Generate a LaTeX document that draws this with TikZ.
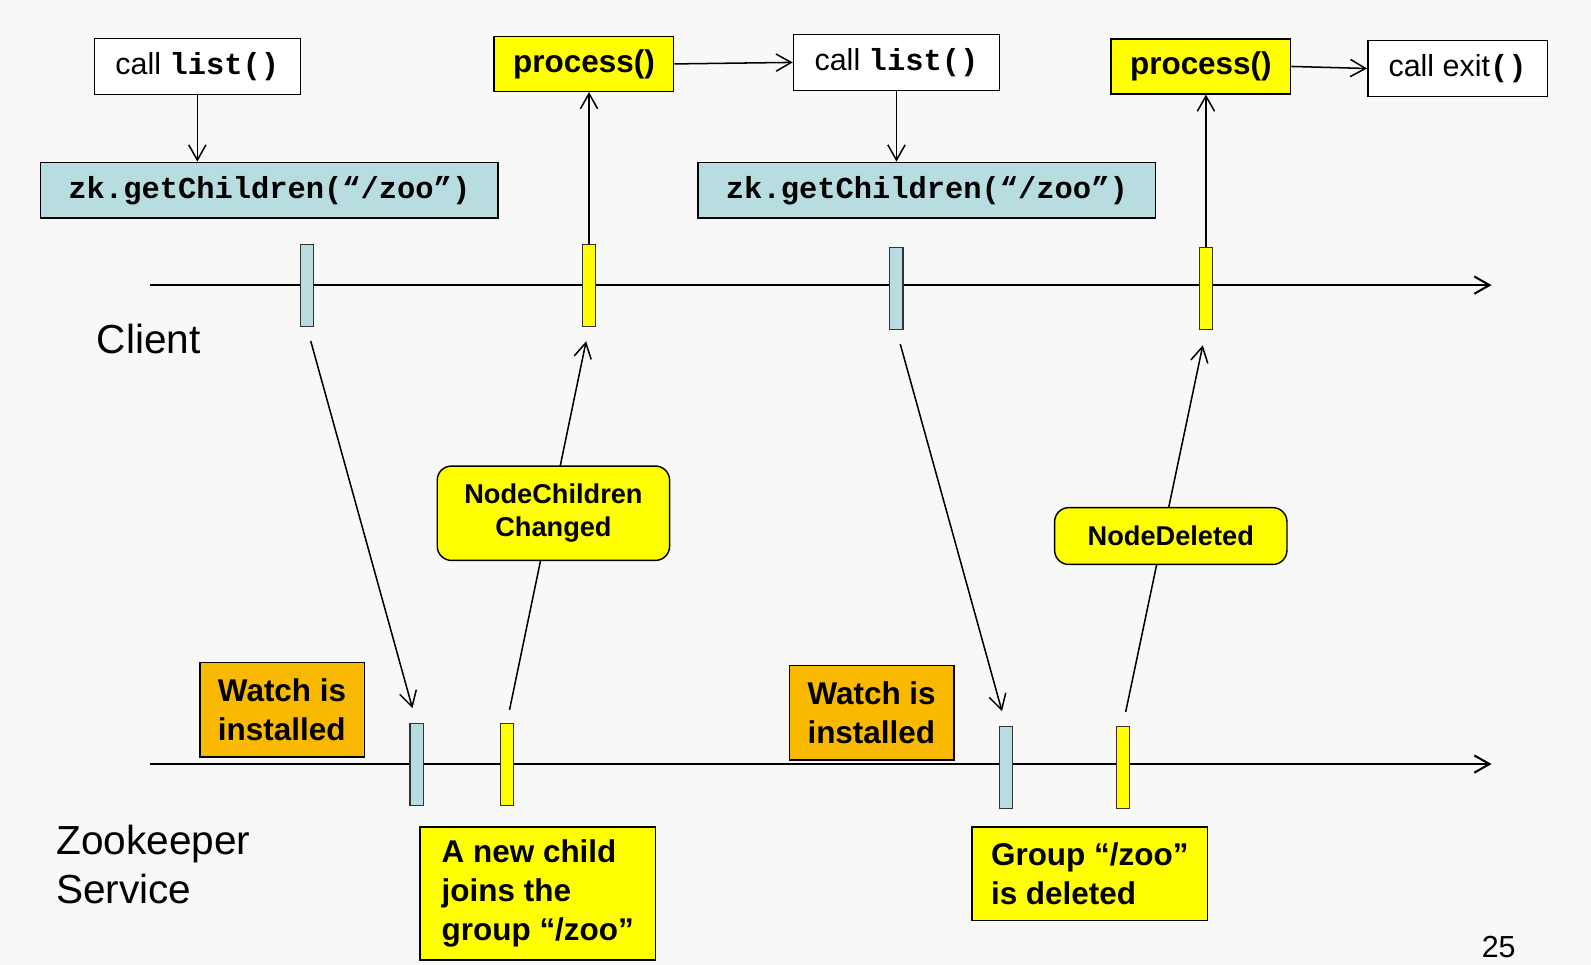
\documentclass[tikz,border=0pt]{standalone}
\usepackage{fontspec}
\setmainfont{Liberation Sans}
\setmonofont{Liberation Mono}
\usepackage{tikz}
\usetikzlibrary{arrows.meta}
\definecolor{zkblue}{HTML}{B8DDE0}
\definecolor{zkyellow}{HTML}{FFFF00}
\definecolor{zkorange}{HTML}{F9B900}
\definecolor{zkback}{HTML}{F8F8F8}

\tikzset{
  plainbox/.style={draw=black,line width=0.7pt,inner sep=0pt,
    font=\fontsize{15}{18}\selectfont},
  callbox/.style={plainbox,fill=white,minimum width=101.5pt,minimum height=27.5pt},
  getbox/.style={plainbox,fill=zkblue,minimum width=225.5pt,minimum height=27.5pt},
  procbox/.style={plainbox,fill=zkyellow,minimum width=88.5pt,minimum height=27pt,
    font=\fontsize{15.5}{18}\selectfont\bfseries},
  watchbox/.style={plainbox,fill=zkorange,minimum width=81pt,minimum height=46.5pt,
    align=left,font=\fontsize{15.5}{19}\selectfont\bfseries},
  notebox/.style={plainbox,fill=zkyellow,minimum width=116pt,
    align=left,font=\fontsize{15.5}{19}\selectfont\bfseries},
  eventbox/.style={plainbox,fill=zkyellow,rounded corners=7pt,minimum width=114.5pt,
    align=center,font=\fontsize{13.4}{16.5}\selectfont\bfseries},
  tickmark/.style={draw=black!80,line width=0.6pt,inner sep=0pt,
    minimum width=6.5pt,minimum height=40.5pt},
  timeline/.style={line width=1pt,-{Straight Barb[length=7.5pt,width=8.5pt]}},
  flow/.style={line width=0.75pt,-{Straight Barb[length=7.5pt,width=8.5pt]}}
}

\begin{document}
\begin{tikzpicture}[x=0.5pt,y=-0.5pt]
  % background
  \fill[zkback] (0,0) rectangle (1568,951);

  % the two timelines
  \coordinate (cli-a) at (148,281); \coordinate (cli-b) at (1470,281);
  \coordinate (srv-a) at (148,753); \coordinate (srv-b) at (1470,753);
  \draw[timeline] (cli-a) -- (cli-b);
  \draw[timeline] (srv-a) -- (srv-b);

  % marks: name, x, y, colour
  \foreach \nm/\x/\y/\c in {%
    t1/302.5/281.5/zkblue, t2/580.5/281.5/zkyellow,
    t3/883.5/284.5/zkblue, t4/1188.5/284.5/zkyellow,
    z1/410.5/753.5/zkblue, z2/499.5/753.5/zkyellow,
    z3/991.5/756.5/zkblue, z4/1106.5/756.5/zkyellow}{
      \node[tickmark,fill=\c] (\nm) at (\x,\y) {};
  }

  % client calls
  \node[callbox] (list1) at (194.5,65.5) {call \texttt{\bfseries list()}};
  \node[getbox] (get1) at (265.5,187.5) {\texttt{\bfseries zk.getChildren(“/zoo”)}};
  \node[procbox] (proc1) at (575.5,63) {process()};
  \node[callbox] (list2) at (883.5,61.5) {call \texttt{\bfseries list()}};
  \node[getbox] (get2) at (913.5,187.5) {\texttt{\bfseries zk.getChildren(“/zoo”)}};
  \node[procbox] (proc2) at (1183.5,65.5) {process()};
  \node[callbox,minimum width=88.5pt] (exit) at (1436.5,67.5) {call exit\texttt{\bfseries ()}};

  \draw[flow] (list1.south) -- (list1.south |- get1.north);
  \draw[flow] (proc1.east) -- (list2.west);
  \draw[flow] (list2.south) -- (list2.south |- get2.north);
  \draw[flow] (proc2.east) -- (exit.west);
  \draw[flow] (t2.north) -- (t2.north |- proc1.south);
  \draw[flow] (t4.north) -- (t4.north |- proc2.south);

  % messages between client and service
  \draw[flow,shorten <=7pt,shorten >=7.5pt] (t1.south) -- (z1.north);
  \draw[flow,shorten <=6.5pt,shorten >=7pt] (z2.north) --
    node[eventbox,pos=0.53,xshift=1.5pt,minimum height=46.5pt] {NodeChildren\\Changed} (t2.south);
  \draw[flow,shorten <=7pt,shorten >=7.5pt] (t3.south) -- (z3.north);
  \draw[flow,shorten <=7pt,shorten >=7.5pt] (z4.north) --
    node[eventbox,pos=0.48,xshift=4pt,minimum height=28pt] {NodeDeleted} (t4.south);

  % service side notes
  \node[watchbox] (watch1) at (278,699.5) {Watch is\\installed};
  \node[watchbox] (watch2) at (859,702.5) {Watch is\\installed};
  \node[notebox,minimum height=65.5pt] (child) at (530,880.5)
    {A new child\\joins the\\group “/zoo”};
  \node[notebox,minimum height=46pt] (gone) at (1074,861)
    {Group “/zoo”\\is deleted};

  % labels
  \node[font=\fontsize{20}{24.5}\selectfont] (client) at (146.5,334) {Client};
  \node[font=\fontsize{20}{24.5}\selectfont,align=left,anchor=west,inner sep=0pt]
    (service) at (55,852) {Zookeeper\\Service};
  \node[font=\fontsize{15}{18}\selectfont] (page) at (1477,933) {25};
\end{tikzpicture}
\end{document}
